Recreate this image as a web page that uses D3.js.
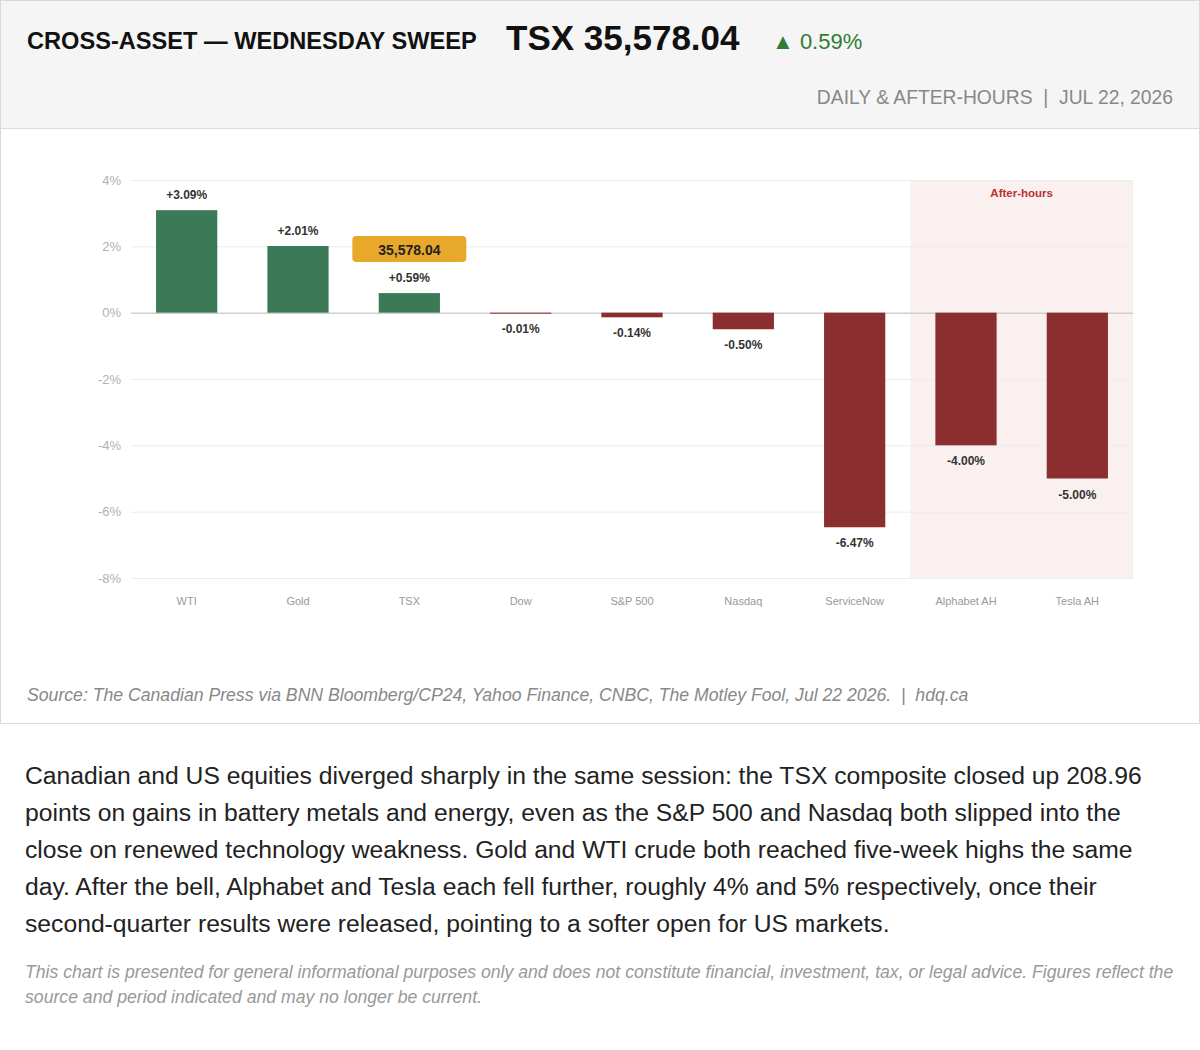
<!DOCTYPE html>
<html>
<head>
<meta charset="utf-8">
<script src="https://cdn.jsdelivr.net/npm/d3@7"></script>
<style>
  body { margin: 0; background: #fff; font-family: "Liberation Sans", Arial, sans-serif; }
  .card { position: absolute; left: 0; top: 0; width: 1198px; height: 722px; border: 1px solid #d9d9d9; }
  .header { position: absolute; left: 0; top: 0; width: 1198px; height: 127px; background: #f5f5f5; border-bottom: 1px solid #dcdcdc; }
  .note { position: absolute; left: 25px; top: 757px; width: 1150px; font-size: 24.7px; line-height: 37px; color: #222; }
  .disc { position: absolute; left: 25px; top: 960px; width: 1165px; font-size: 17.65px; line-height: 25px; color: #999; font-style: italic; }
  svg { position: absolute; left: 0; top: 0; }
</style>
</head>
<body>
<div class="card"><div class="header"></div></div>
<svg id="chart" width="1200" height="730"></svg>
<div class="note">Canadian and US equities diverged sharply in the same session: the TSX composite closed up 208.96 points on gains in battery metals and energy, even as the S&amp;P 500 and Nasdaq both slipped into the close on renewed technology weakness. Gold and WTI crude both reached five-week highs the same day. After the bell, Alphabet and Tesla each fell further, roughly 4% and 5% respectively, once their second-quarter results were released, pointing to a softer open for US markets.</div>
<div class="disc">This chart is presented for general informational purposes only and does not constitute financial, investment, tax, or legal advice. Figures reflect the source and period indicated and may no longer be current.</div>
<script>
const assets = ['WTI', 'Gold', 'TSX', 'Dow', 'S&P 500', 'Nasdaq', 'ServiceNow', 'Alphabet AH', 'Tesla AH']
const changes = [3.09, 2.01, 0.59, -0.01, -0.14, -0.50, -6.47, -4.00, -5.00]
const afterHours = ['Alphabet AH', 'Tesla AH']
const yTicks = [4, 2, 0, -2, -4, -6, -8]
const tsxLevel = '35,578.04'

const svg = d3.select('#chart')

// header
svg.append('text').attr('x', 27).attr('y', 49)
  .attr('font-size', 23.6).attr('font-weight', 'bold').attr('fill', '#111')
  .text('CROSS-ASSET — WEDNESDAY SWEEP')
svg.append('text').attr('x', 506).attr('y', 50)
  .attr('font-size', 35).attr('font-weight', 'bold').attr('fill', '#111')
  .text('TSX ' + tsxLevel)
svg.append('text').attr('x', 772).attr('y', 49)
  .attr('font-size', 22).attr('fill', '#2e7d32')
  .text('▲ 0.59%')
svg.append('text').attr('x', 1173).attr('y', 104)
  .attr('font-size', 19.3).attr('fill', '#888').attr('text-anchor', 'end')
  .attr('xml:space', 'preserve')
  .text('DAILY & AFTER-HOURS  |  JUL 22, 2026')

// scales
const x = d3.scaleBand().domain(assets).range([131, 1133]).paddingInner(0.45).paddingOuter(0.225)
const y = d3.scaleLinear().domain([-8, 4]).range([578, 180])

const plot = svg.append('g')

// after-hours shading
const ahStart = x(afterHours[0]) - x.step() * x.paddingInner() / 2
plot.append('rect')
  .attr('x', ahStart).attr('y', y(4))
  .attr('width', 1133 - ahStart).attr('height', y(-8) - y(4))
  .attr('fill', '#faf0f0')
plot.append('text')
  .attr('x', (ahStart + 1133) / 2).attr('y', y(4) + 17)
  .attr('text-anchor', 'middle').attr('font-size', 11.5).attr('font-weight', 'bold')
  .attr('fill', '#b83232')
  .text('After-hours')

// grid + y axis
const yAxis = plot.append('g')
  .attr('transform', 'translate(131,0)')
  .call(d3.axisLeft(y).tickValues(yTicks).tickSize(-1002).tickFormat(d => d + '%').tickPadding(10))
yAxis.select('.domain').remove()
yAxis.selectAll('.tick line').attr('stroke', d => d === 0 ? '#d0d0d0' : '#ececec').attr('stroke-width', d => d === 0 ? 1.5 : 1)
yAxis.selectAll('.tick text').attr('fill', '#b0b0b0').attr('font-size', 13)
  .attr('font-family', '"Liberation Sans", Arial, sans-serif')

// bars
const data = assets.map((a, i) => ({ name: a, value: changes[i] }))
plot.append('g').selectAll('rect').data(data).join('rect')
  .attr('x', d => x(d.name))
  .attr('width', x.bandwidth())
  .attr('y', d => y(Math.max(0, d.value)))
  .attr('height', d => Math.max(1, Math.abs(y(d.value) - y(0))))
  .attr('fill', d => d.value >= 0 ? '#3b7a57' : '#8b2e30')

// value labels
plot.append('g').selectAll('text').data(data).join('text')
  .attr('x', d => x(d.name) + x.bandwidth() / 2)
  .attr('y', d => d.value >= 0 ? y(d.value) - 11 : y(d.value) + 20)
  .attr('text-anchor', 'middle').attr('font-size', 12).attr('font-weight', 'bold')
  .attr('fill', '#333')
  .text(d => (d.value > 0 ? '+' : '') + d.value.toFixed(2) + '%')

// TSX badge
const tsx = data.find(d => d.name === 'TSX')
const bx = x('TSX') + x.bandwidth() / 2
const by = y(tsx.value) - 57
plot.append('rect')
  .attr('x', bx - 57).attr('y', by).attr('width', 114).attr('height', 26)
  .attr('rx', 4).attr('fill', '#e8a82a')
plot.append('text')
  .attr('x', bx).attr('y', by + 19)
  .attr('text-anchor', 'middle').attr('font-size', 14).attr('font-weight', 'bold')
  .attr('fill', '#222')
  .text(tsxLevel)

// x labels
plot.append('g').selectAll('text').data(assets).join('text')
  .attr('x', d => x(d) + x.bandwidth() / 2)
  .attr('y', 605)
  .attr('text-anchor', 'middle').attr('font-size', 11).attr('fill', '#999')
  .text(d => d)

// source
svg.append('text').attr('x', 27).attr('y', 701)
  .attr('font-size', 17.65).attr('font-style', 'italic').attr('fill', '#888')
  .attr('xml:space', 'preserve')
  .text('Source: The Canadian Press via BNN Bloomberg/CP24, Yahoo Finance, CNBC, The Motley Fool, Jul 22 2026.  |  hdq.ca')
</script>
</body>
</html>
